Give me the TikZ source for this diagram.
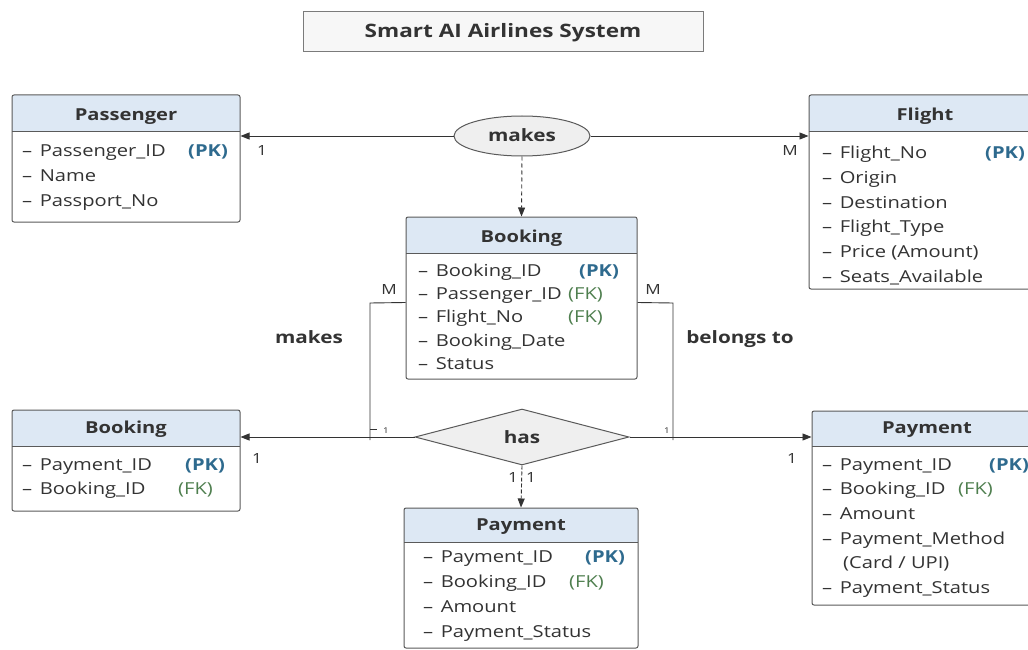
\documentclass[tikz,border=0pt]{standalone}
\usepackage{fontspec}
\setmainfont[FakeStretch=1.22]{Open Sans}
\usetikzlibrary{arrows.meta,shapes.geometric,fit,calc}

\definecolor{ink}{HTML}{333333}
\definecolor{edge}{HTML}{5A5A5A}
\definecolor{headfill}{HTML}{DDE8F4}
\definecolor{pkcol}{HTML}{2E6A8E}
\definecolor{fkcol}{HTML}{4F7F4F}
\definecolor{titlefill}{HTML}{F7F7F7}
\definecolor{relfill}{HTML}{EFEFEF}

% list dash in front of each attribute
\newcommand\attrdash{–\hspace{7.5pt}}

\tikzset{
  entitybox/.style={draw=edge, line width=1pt, rounded corners=2pt, inner sep=0pt},
  heading/.style={font=\fontsize{16.5}{18}\selectfont\bfseries, text=ink, anchor=base},
  attr/.style={font=\fontsize{16.5}{18}\selectfont, text=ink, anchor=base west, inner sep=0pt},
  pk/.style={font=\fontsize{16.5}{18}\selectfont\bfseries, text=pkcol, anchor=base west, inner sep=0pt},
  fk/.style={font=\fontsize{16.5}{18}\selectfont, text=fkcol, anchor=base west, inner sep=0pt},
  card/.style={font=\fontsize{14}{16}\selectfont, text=ink, inner sep=0pt},
  tinycard/.style={font=\fontsize{8}{9}\selectfont, text=ink, inner sep=0pt},
  rellabel/.style={font=\fontsize{17}{19}\selectfont\bfseries, text=ink, anchor=base},
  link/.style={draw=ink, line width=0.9pt},
  tip/.style={-{Triangle[length=9pt,width=7pt]}},
}

% entity box: name, x1, y1, x2, y2, header bottom, title, title baseline
\newcommand\erentity[8]{%
  \begin{scope}
    \clip[rounded corners=2pt] (#2,#3) rectangle (#4,#5);
    \fill[headfill] (#2,#3) rectangle (#4,#6);
    \fill[white] (#2,#6) rectangle (#4,#5);
  \end{scope}
  \node[entitybox, fit={(#2,#3) (#4,#5)}] (#1) {};
  \draw[edge, line width=1pt] (#2,#6) -- (#4,#6);
  \node[heading] (#1-title) at ({(#2+#4)/2},#8) {#7};
}

\begin{document}
\begin{tikzpicture}[x=1pt, y=-1pt]
\useasboundingbox (0,0) rectangle (1028,650);
\clip (0,0) rectangle (1028,650);
\fill[white] (0,0) rectangle (1028,650);

% title
\node[draw=edge!80, fill=titlefill, line width=1pt, minimum width=400pt, minimum height=40pt, inner sep=0pt] (title) at (503,32) {};
\node[font=\fontsize{18.5}{20}\selectfont\bfseries, text=ink, anchor=base] (title-text) at (503,38) {Smart AI Airlines System};

% Passenger
\erentity{pa}{12}{95}{240}{222}{132}{Passenger}{121}
\node[attr] (pa-a1) at (22,157) {\attrdash Passenger\_ID};
\node[pk]   (pa-k1) at (188,157) {(PK)};
\node[attr] (pa-a2) at (22,182) {\attrdash Name};
\node[attr] (pa-a3) at (22,206) {\attrdash Passport\_No};

% Flight
\erentity{fl}{809}{95}{1041}{289}{132}{Flight}{121}
\node[attr] (fl-a1) at (822,158) {\attrdash Flight\_No};
\node[pk]   (fl-k1) at (985,158) {(PK)};
\node[attr] (fl-a2) at (822,183) {\attrdash Origin};
\node[attr] (fl-a3) at (822,208) {\attrdash Destination};
\node[attr] (fl-a4) at (822,232) {\attrdash Flight\_Type};
\node[attr] (fl-a5) at (822,257) {\attrdash Price (Amount)};
\node[attr] (fl-a6) at (822,282) {\attrdash Seats\_Available};

% Booking (centre)
\erentity{bk}{406}{217}{637}{379}{253}{Booking}{242}
\node[attr] (bk-a1) at (418,276) {\attrdash Booking\_ID};
\node[pk]   (bk-k1) at (579,276) {(PK)};
\node[attr] (bk-a2) at (418,299) {\attrdash Passenger\_ID};
\node[fk]   (bk-k2) at (568,299) {(FK)};
\node[attr] (bk-a3) at (418,322) {\attrdash Flight\_No};
\node[fk]   (bk-k3) at (568,322) {(FK)};
\node[attr] (bk-a4) at (418,346) {\attrdash Booking\_Date};
\node[attr] (bk-a5) at (418,369) {\attrdash Status};

% Booking (left)
\erentity{bl}{12}{410}{240}{511}{446}{Booking}{433}
\node[attr] (bl-a1) at (22,470) {\attrdash Payment\_ID};
\node[pk]   (bl-k1) at (185,470) {(PK)};
\node[attr] (bl-a2) at (22,494) {\attrdash Booking\_ID};
\node[fk]   (bl-k2) at (178,494) {(FK)};

% Payment (right)
\erentity{pr}{812}{411}{1042}{605}{446}{Payment}{433}
\node[attr] (pr-a1) at (822,470) {\attrdash Payment\_ID};
\node[pk]   (pr-k1) at (989,470) {(PK)};
\node[attr] (pr-a2) at (822,494) {\attrdash Booking\_ID};
\node[fk]   (pr-k2) at (958,494) {(FK)};
\node[attr] (pr-a3) at (822,519) {\attrdash Amount};
\node[attr] (pr-a4) at (822,544) {\attrdash Payment\_Method};
\node[attr] (pr-a5) at (843,568) {(Card / UPI)};
\node[attr] (pr-a6) at (822,593) {\attrdash Payment\_Status};

% Payment (bottom)
\erentity{pb}{404}{508}{638}{648}{542}{Payment}{530}
\node[attr] (pb-a1) at (423,562) {\attrdash Payment\_ID};
\node[pk]   (pb-k1) at (585,562) {(PK)};
\node[attr] (pb-a2) at (423,587) {\attrdash Booking\_ID};
\node[fk]   (pb-k2) at (569,587) {(FK)};
\node[attr] (pb-a3) at (423,612) {\attrdash Amount};
\node[attr] (pb-a4) at (423,637) {\attrdash Payment\_Status};

% relationships
\node[ellipse, draw=edge, fill=relfill, line width=1pt, minimum width=136pt, minimum height=40pt, inner sep=0pt] (mk) at (522,136) {};
\node[rellabel] (mk-text) at (522,142) {makes};
\node[diamond, draw=edge, fill=relfill, line width=1pt, aspect=3.85, minimum width=214pt, minimum height=56pt, inner sep=0pt] (hs) at (522,437) {};
\node[rellabel] (hs-text) at (522,443) {has};

% makes -> Passenger / Flight
\draw[link, tip] (mk.west) -- (mk.west -| pa.east);
\draw[link, tip] (mk.east) -- (mk.east -| fl.west);
\draw[link, tip, dashed, dash pattern=on 4pt off 3pt] (mk.south) -- (bk.north);
\node[card] (c-pa) at (262,151) {1};
\node[card] (c-fl) at (790,151) {M};

% Booking -> has (left and right elbows)
\coordinate (jl-top) at ($(bk.north west)+(0,86)$);
\coordinate (jl-bend) at (370,303);
\coordinate (jl-foot) at (370,440);
\coordinate (jr-top) at ($(bk.north east)+(0,86)$);
\coordinate (jr-bend) at (673,303);
\coordinate (jr-foot) at (673,440);
\draw[link] (jl-top) -- (jl-bend) -- (jl-foot);
\draw[link] (jr-top) -- (jr-bend) -- (jr-foot);
\node[card] (c-ml) at (389,290) {M};
\node[card] (c-mr) at (653,290) {M};
\draw[link, line width=0.7pt] (jl-foot |- 0,429) -- ++(7,0) coordinate (jl-tick);
\node[tinycard] (c-t1) at (386,431) {1};
\node[tinycard] (c-t2) at (667,431) {1};
\node[rellabel] (l-makes) at (309,343) {makes};
\node[rellabel] (l-belongs) at (740,343) {belongs to};

% has -> Booking / Payment
\draw[link, tip] (hs.west) -- (hs.west -| bl.east);
\draw[link, tip] (hs.east) -- (hs.east -| pr.west);
\draw[link, tip, dashed, dash pattern=on 4pt off 2pt] (hs.south) -- (pb.north);
\node[card] (c-bl) at (257,458) {1};
\node[card] (c-pr) at (792,458) {1};
\node[card] (c-p1) at (513,477) {1};
\node[card] (c-p2) at (531,477) {1};
\end{tikzpicture}
\end{document}
